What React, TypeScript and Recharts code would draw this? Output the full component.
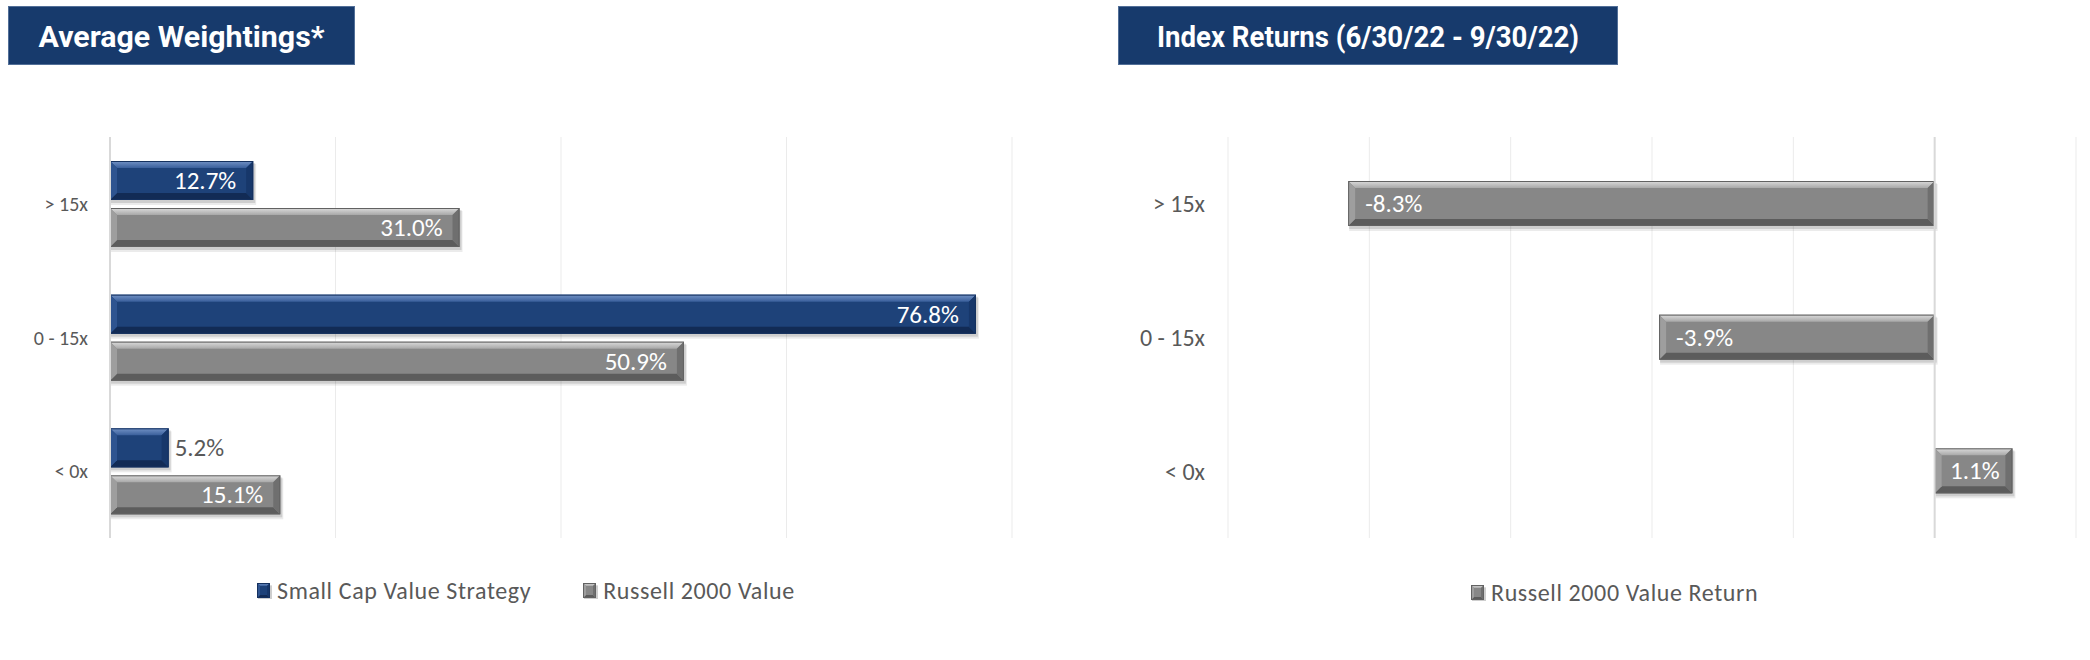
import React from "react";
import { Bar, BarChart, CartesianGrid, LabelList, ReferenceLine, XAxis, YAxis } from "recharts";

const categories = ["> 15x", "0 - 15x", "< 0x"];
const strategyWeights = [12.7, 76.8, 5.2];
const russellWeights = [31.0, 50.9, 15.1];
const indexReturns = [-8.3, -3.9, 1.1];
const weightTicks = [0, 20, 40, 60, 80];
const returnTicks = [-10, -8, -6, -4, -2, 0, 2];
const weightSeries = ["Small Cap Value Strategy", "Russell 2000 Value"];
const returnSeries = ["Russell 2000 Value Return"];
const titles = ["Average Weightings*", "Index Returns (6/30/22 - 9/30/22)"];

const weightData = categories.map((category, i) => ({
  category,
  strategy: strategyWeights[i],
  russell: russellWeights[i],
}));
const returnData = categories.map((category, i) => ({ category, ret: indexReturns[i] }));

const FONT = "Carlito, Calibri, Lato, sans-serif";
const TEXT_GRAY = "#595959";
const NAVY = "#173A6C";

type Palette = {
  id: string;
  main: string;
  topHi: string;
  top: string;
  left: string;
  right: string;
  bottom: string;
  edge: string;
};

const blue: Palette = {
  id: "blue",
  main: "#1E4279",
  topHi: "#7393C6",
  top: "#3A5F9B",
  left: "#2E5490",
  right: "#17376A",
  bottom: "#122B55",
  edge: "#15315F",
};
const gray: Palette = {
  id: "gray",
  main: "#878787",
  topHi: "#DCDCDC",
  top: "#A8A8A8",
  left: "#9E9E9E",
  right: "#6F6F6F",
  bottom: "#5C5C5C",
  edge: "#626262",
};

function BevelBar(props: any) {
  const { x, y, width, height, palette, depth = 7 } = props;
  const p: Palette = palette;
  const x0 = Math.min(x, x + width);
  const w = Math.abs(width);
  const y0 = Math.min(y, y + height);
  const h = Math.abs(height);
  if (!w || !h) return null;
  const b = Math.min(depth, w / 3, h / 3);
  const x1 = x0 + w;
  const y1 = y0 + h;
  const gid = `bevel-top-${p.id}`;
  return (
    <g>
      <defs>
        <linearGradient id={gid} x1="0" y1="0" x2="0" y2="1">
          <stop offset="0%" stopColor={p.topHi} />
          <stop offset="100%" stopColor={p.top} />
        </linearGradient>
      </defs>
      <rect x={x0 + 1} y={y0 + 3} width={w + 2} height={h + 2} fill="#000" opacity={0.08} />
      <rect x={x0 + 1} y={y0 + 2} width={w + 1} height={h + 1} fill="#000" opacity={0.12} />
      <rect x={x0} y={y0} width={w} height={h} fill={p.main} />
      <polygon points={`${x0},${y0} ${x1},${y0} ${x1 - b},${y0 + b} ${x0 + b},${y0 + b}`} fill={`url(#${gid})`} />
      <polygon points={`${x0},${y1} ${x1},${y1} ${x1 - b},${y1 - b} ${x0 + b},${y1 - b}`} fill={p.bottom} />
      <polygon points={`${x0},${y0} ${x0 + b},${y0 + b} ${x0 + b},${y1 - b} ${x0},${y1}`} fill={p.left} />
      <polygon points={`${x1},${y0} ${x1 - b},${y0 + b} ${x1 - b},${y1 - b} ${x1},${y1}`} fill={p.right} />
      <rect x={x0 + 0.5} y={y0 + 0.5} width={w - 1} height={h - 1} fill="none" stroke={p.edge} strokeWidth={1} />
    </g>
  );
}

const makeLabel = (fontSize: number, offset: number) => (props: any) => {
  const { x, y, width, height, value } = props;
  const v = Number(value);
  const x0 = Math.min(x, x + width);
  const w = Math.abs(width);
  const cy = y + height / 2;
  const text = `${v.toFixed(1)}%`;
  const tw = text.length * fontSize * 0.52;
  const common = { y: cy, dominantBaseline: "central" as const, fontSize, fontFamily: FONT };
  if (tw + 16 > w) {
    return v >= 0 ? (
      <text {...common} x={x0 + w + 6} textAnchor="start" fill={TEXT_GRAY}>
        {text}
      </text>
    ) : (
      <text {...common} x={x0 - 6} textAnchor="end" fill={TEXT_GRAY}>
        {text}
      </text>
    );
  }
  const pad = Math.min(offset, (w - tw) / 2);
  return v >= 0 ? (
    <text {...common} x={x0 + w - pad} textAnchor="end" fill="#FFFFFF">
      {text}
    </text>
  ) : (
    <text {...common} x={x0 + pad} textAnchor="start" fill="#FFFFFF">
      {text}
    </text>
  );
};

function LegendIcon({ palette }: { palette: Palette }) {
  return (
    <svg width={15} height={16} style={{ display: "block" }}>
      <BevelBar x={0} y={0} width={13} height={15} palette={palette} depth={3} />
    </svg>
  );
}

function LegendRow({ names, palettes, left, top }: { names: string[]; palettes: Palette[]; left: number; top: number }) {
  return (
    <div
      style={{
        position: "absolute",
        left,
        top,
        display: "flex",
        alignItems: "center",
        gap: 52,
        fontFamily: FONT,
        fontSize: 24,
        color: TEXT_GRAY,
        letterSpacing: 0.6,
        whiteSpace: "nowrap",
      }}
    >
      {names.map((name, i) => (
        <div key={name} style={{ display: "flex", alignItems: "center", gap: 5 }}>
          <LegendIcon palette={palettes[i]} />
          <span>{name}</span>
        </div>
      ))}
    </div>
  );
}

function TitleBox({ text, left, width, textWidth }: { text: string; left: number; width: number; textWidth: number }) {
  return (
    <svg style={{ position: "absolute", left, top: 6 }} width={width} height={59}>
      <rect x={0} y={0} width={width} height={59} fill={NAVY} />
      <rect x={0.5} y={0.5} width={width - 1} height={58} fill="none" stroke="#8EA3C4" strokeOpacity={0.5} />
      <text
        x={width / 2}
        y={41}
        textAnchor="middle"
        fill="#FFFFFF"
        fontFamily="Roboto, 'Liberation Sans', sans-serif"
        fontWeight={700}
        fontSize={30}
        textLength={textWidth}
        lengthAdjust="spacingAndGlyphs"
      >
        {text}
      </text>
    </svg>
  );
}

export default function App() {
  return (
    <div style={{ position: "absolute", left: 0, top: 0, width: 2090, height: 660, background: "#FFFFFF", overflow: "hidden" }}>
      <TitleBox text={titles[0]} left={8} width={347} textWidth={286} />
      <TitleBox text={titles[1]} left={1118} width={500} textWidth={422} />

      <div style={{ position: "absolute", left: 0, top: 0 }}>
        <BarChart
          width={1100}
          height={660}
          data={weightData}
          layout="vertical"
          margin={{ top: 137, right: 88, bottom: 122, left: 0 }}
          barSize={39}
          barGap={8}
        >
          <CartesianGrid horizontal={false} stroke="#EBEBEB" />
          <XAxis type="number" domain={[0, 80]} ticks={weightTicks} hide />
          <YAxis
            type="category"
            dataKey="category"
            width={110}
            tickLine={false}
            tickSize={0}
            tickMargin={22}
            axisLine={{ stroke: "#D9D9D9", strokeWidth: 2 }}
            tick={{ fill: TEXT_GRAY, fontSize: 20, fontFamily: FONT }}
          />
          <Bar dataKey="strategy" name={weightSeries[0]} isAnimationActive={false} shape={(p: any) => <BevelBar {...p} palette={blue} />}>
            <LabelList dataKey="strategy" content={makeLabel(25, 17)} />
          </Bar>
          <Bar dataKey="russell" name={weightSeries[1]} isAnimationActive={false} shape={(p: any) => <BevelBar {...p} palette={gray} />}>
            <LabelList dataKey="russell" content={makeLabel(25, 17)} />
          </Bar>
        </BarChart>
      </div>

      <div style={{ position: "absolute", left: 1100, top: 0 }}>
        <BarChart
          width={990}
          height={660}
          data={returnData}
          layout="vertical"
          margin={{ top: 137, right: 14, bottom: 122, left: 0 }}
          barSize={45}
        >
          <CartesianGrid horizontal={false} stroke="#EBEBEB" />
          <XAxis type="number" domain={[-10, 2]} ticks={returnTicks} hide />
          <YAxis
            type="category"
            dataKey="category"
            width={128}
            tickLine={false}
            tickSize={0}
            tickMargin={23}
            axisLine={false}
            tick={{ fill: TEXT_GRAY, fontSize: 24, fontFamily: FONT }}
          />
          <ReferenceLine x={0} stroke="#D9D9D9" strokeWidth={2} />
          <Bar dataKey="ret" name={returnSeries[0]} isAnimationActive={false} shape={(p: any) => <BevelBar {...p} palette={gray} />}>
            <LabelList dataKey="ret" content={makeLabel(25, 17)} />
          </Bar>
        </BarChart>
      </div>

      <LegendRow names={weightSeries} palettes={[blue, gray]} left={257} top={576} />
      <LegendRow names={returnSeries} palettes={[gray]} left={1471} top={578} />
    </div>
  );
}
